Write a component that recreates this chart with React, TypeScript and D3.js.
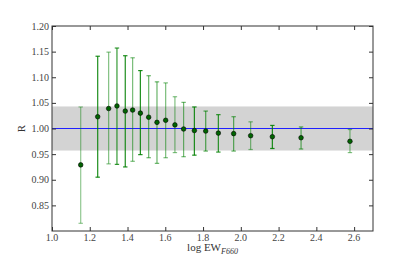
import * as d3 from 'd3';
import { useEffect, useRef } from 'react';

// binned log EW(F660) and mean ratio R with its spread
const logEW = [1.152, 1.242, 1.300, 1.344, 1.388, 1.427, 1.468, 1.512, 1.556, 1.602, 1.651, 1.697, 1.754, 1.814, 1.881, 1.962, 2.052, 2.167, 2.319, 2.578];
const ratio = [0.929, 1.023, 1.039, 1.044, 1.034, 1.036, 1.030, 1.022, 1.012, 1.016, 1.007, 0.999, 0.996, 0.995, 0.991, 0.990, 0.986, 0.984, 0.982, 0.975];
const upper = [1.042, 1.141, 1.149, 1.157, 1.142, 1.138, 1.113, 1.103, 1.091, 1.089, 1.062, 1.051, 1.042, 1.034, 1.027, 1.023, 1.013, 1.006, 1.003, 0.998];
const lower = [0.815, 0.905, 0.931, 0.930, 0.925, 0.936, 0.949, 0.943, 0.932, 0.943, 0.953, 0.945, 0.948, 0.956, 0.954, 0.956, 0.959, 0.961, 0.960, 0.953];
// relative weight of each bin (drawn as error bar opacity)
const weight = [0.2, 0.9, 0.3, 0.75, 0.9, 0.35, 0.9, 0.45, 0.45, 0.35, 0.3, 0.4, 0.9, 0.55, 0.8, 0.5, 0.3, 0.9, 0.5, 0.3];

const band = [0.957, 1.043];
const xTicks = [1.0, 1.2, 1.4, 1.6, 1.8, 2.0, 2.2, 2.4, 2.6];
const yTicks = [0.85, 0.90, 0.95, 1.00, 1.05, 1.10, 1.15, 1.20];

export default function App() {
    const ref = useRef<HTMLDivElement>(null);

    useEffect(() => {
        const width = 415;
        const height = 257;
        const margin = { top: 26, right: 42, bottom: 26, left: 52 };
        const font = 'Liberation Serif, DejaVu Serif, serif';

        const svg = d3.create('svg')
            .attr('width', width)
            .attr('height', height)
            .style('position', 'absolute')
            .style('left', 0)
            .style('top', 0);

        const x = d3.scaleLinear().domain([1.0, 2.7]).range([margin.left, width - margin.right]);
        const y = d3.scaleLinear().domain([0.8, 1.2]).range([height - margin.bottom, margin.top]);
        const opacity = d3.scaleLinear().domain([0, 1]).range([0.3, 0.95]);

        // grey band
        svg.append('rect')
            .attr('x', x(1.0))
            .attr('width', x(2.7) - x(1.0))
            .attr('y', y(band[1]))
            .attr('height', y(band[0]) - y(band[1]))
            .attr('fill', '#d3d3d3');

        // reference line
        svg.append('line')
            .attr('x1', x(1.0)).attr('x2', x(2.7))
            .attr('y1', y(1)).attr('y2', y(1))
            .attr('stroke', '#2020ff')
            .attr('stroke-width', 1.2);

        const data = logEW.map((v, i) => ({ x: v, r: ratio[i], hi: upper[i], lo: lower[i], w: weight[i] }));

        const bars = svg.append('g')
            .selectAll('g')
            .data(data)
            .join('g')
            .attr('stroke', '#008000')
            .attr('stroke-opacity', d => opacity(d.w))
            .attr('stroke-width', 1.2);

        bars.append('line')
            .attr('x1', d => x(d.x)).attr('x2', d => x(d.x))
            .attr('y1', d => y(d.hi)).attr('y2', d => y(d.lo));
        bars.append('line')
            .attr('x1', d => x(d.x) - 2.2).attr('x2', d => x(d.x) + 2.2)
            .attr('y1', d => y(d.hi)).attr('y2', d => y(d.hi));
        bars.append('line')
            .attr('x1', d => x(d.x) - 2.2).attr('x2', d => x(d.x) + 2.2)
            .attr('y1', d => y(d.lo)).attr('y2', d => y(d.lo));

        svg.append('g')
            .selectAll('circle')
            .data(data)
            .join('circle')
            .attr('cx', d => x(d.x))
            .attr('cy', d => y(d.r))
            .attr('r', 2.3)
            .attr('fill', '#006400')
            .attr('stroke', '#000')
            .attr('stroke-width', 0.6);

        // frame + inward ticks on all sides
        const tickLen = 4;
        const axisColor = '#333';
        const bottom = svg.append('g').attr('transform', `translate(0,${height - margin.bottom})`)
            .call(d3.axisTop(x).tickValues(xTicks).tickSize(tickLen).tickFormat(() => ''));
        const top = svg.append('g').attr('transform', `translate(0,${margin.top})`)
            .call(d3.axisBottom(x).tickValues(xTicks).tickSize(tickLen).tickFormat(() => ''));
        const left = svg.append('g').attr('transform', `translate(${margin.left},0)`)
            .call(d3.axisRight(y).tickValues(yTicks).tickSize(tickLen).tickFormat(() => ''));
        const right = svg.append('g').attr('transform', `translate(${width - margin.right},0)`)
            .call(d3.axisLeft(y).tickValues(yTicks).tickSize(tickLen).tickFormat(() => ''));
        [bottom, top, left, right].forEach(g => {
            g.select('.domain').remove();
            g.selectAll('line').attr('stroke', axisColor);
        });

        svg.append('rect')
            .attr('x', margin.left)
            .attr('y', margin.top)
            .attr('width', width - margin.left - margin.right)
            .attr('height', height - margin.top - margin.bottom)
            .attr('fill', 'none')
            .attr('stroke', axisColor)
            .attr('stroke-width', 1);

        // tick labels
        svg.append('g')
            .selectAll('text')
            .data(xTicks)
            .join('text')
            .attr('x', d => x(d))
            .attr('y', height - margin.bottom + 9.5)
            .attr('text-anchor', 'middle')
            .attr('font-family', font)
            .attr('font-size', 10)
            .attr('fill', '#444')
            .text(d => d3.format('.1f')(d));

        svg.append('g')
            .selectAll('text')
            .data(yTicks)
            .join('text')
            .attr('x', margin.left - 3)
            .attr('y', d => y(d) + 3.5)
            .attr('text-anchor', 'end')
            .attr('font-family', font)
            .attr('font-size', 10)
            .attr('fill', '#444')
            .text(d => d3.format('.2f')(d));

        // axis labels
        svg.append('text')
            .attr('transform', `translate(${margin.left - 27},${y(1)}) rotate(-90)`)
            .attr('text-anchor', 'middle')
            .attr('font-family', font)
            .attr('font-size', 11)
            .attr('fill', '#333')
            .text('R');

        const xl = svg.append('text')
            .attr('x', (margin.left + width - margin.right) / 2)
            .attr('y', height - 6)
            .attr('text-anchor', 'middle')
            .attr('font-family', font)
            .attr('font-size', 11)
            .attr('fill', '#333');
        xl.append('tspan').text('log EW');
        xl.append('tspan')
            .attr('font-size', 8)
            .attr('font-style', 'italic')
            .attr('dy', 3)
            .text('F660');

        ref.current?.append(svg.node()!);
        return () => { svg.remove(); };
    }, []);

    return <div ref={ref}></div>;
}
